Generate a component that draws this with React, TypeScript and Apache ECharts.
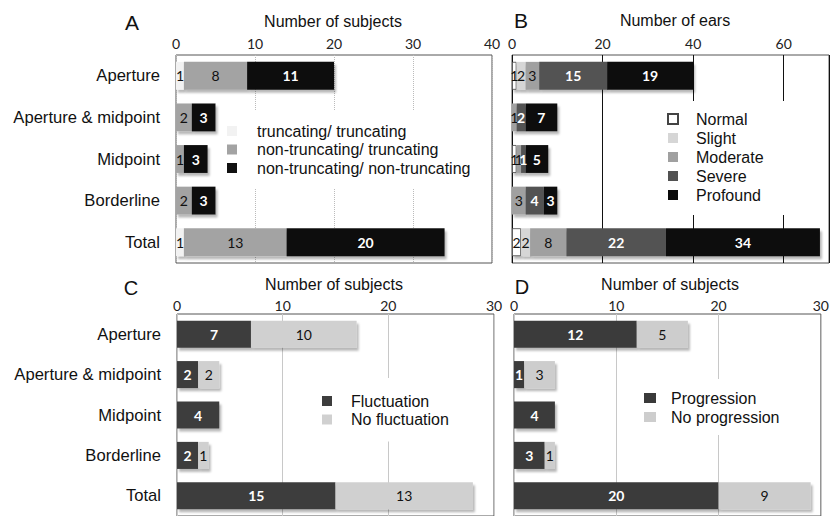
import React, { useEffect, useRef } from "react";
import * as echarts from "echarts";

const categories = ["Aperture", "Aperture & midpoint", "Midpoint", "Borderline", "Total"];

// Panel A (number of subjects)
const truncTrunc = [1, 0, 0, 0, 1];
const nonTruncTrunc = [8, 2, 1, 2, 13];
const nonTruncNonTrunc = [11, 3, 3, 3, 20];

// Panel B (number of ears)
const normal = [1, 0, 1, 0, 2];
const slight = [2, 0, 0, 0, 2];
const moderate = [3, 1, 1, 3, 8];
const severe = [15, 2, 1, 4, 22];
const profound = [19, 7, 5, 3, 34];

// Panel C
const fluctuation = [7, 2, 4, 2, 15];
const noFluctuation = [10, 2, 0, 1, 13];

// Panel D
const progression = [12, 1, 4, 3, 20];
const noProgression = [5, 3, 0, 1, 9];

const ARIAL = "'Liberation Sans', Arial, sans-serif";
const NUMF = "Lato, 'Open Sans', sans-serif";

function seg(name: string, data: number[], idx: number, color: string, dark: boolean, extra: any = {}) {
  return {
    name,
    type: "bar",
    stack: "s" + idx,
    xAxisIndex: idx,
    yAxisIndex: idx,
    data,
    barCategoryGap: "33%",
    itemStyle: {
      color,
      shadowColor: "rgba(0,0,0,0.28)",
      shadowBlur: 2,
      shadowOffsetX: 2,
      shadowOffsetY: 3,
      ...extra,
    },
    label: {
      show: true,
      position: "inside",
      formatter: (p: any) => (p.value ? String(p.value) : ""),
      color: dark ? "#fff" : "#111",
      fontWeight: dark ? "bold" : "normal",
      fontFamily: NUMF,
      fontSize: 14,
    },
  };
}

function grid(left: number, top: number, width: number) {
  return { left, top, width, height: 208, show: true, borderColor: "#555", borderWidth: 1, containLabel: false };
}

function xAx(idx: number, max: number, interval: number, splitColor: string, splitType: string, margin: number) {
  return {
    type: "value",
    gridIndex: idx,
    position: "top",
    min: 0,
    max,
    interval,
    axisLine: { show: false },
    axisTick: { show: false },
    axisLabel: {
      margin,
      fontFamily: NUMF,
      fontSize: 14,
      color: "#222",
      formatter: (v: number) => (v % interval === 0 ? String(v) : ""),
    },
    splitLine: { show: true, lineStyle: { color: splitColor, type: splitType, width: 1 } },
  };
}

function yAx(idx: number, showLabels: boolean) {
  return {
    type: "category",
    gridIndex: idx,
    data: categories,
    inverse: true,
    axisLine: { show: false },
    axisTick: { show: false },
    axisLabel: { show: showLabels, margin: 16, fontFamily: ARIAL, fontSize: 16.6, color: "#111" },
  };
}

function legend(names: string[], left: number, top: number, pad: number[], textPad: number, gap: number, iw = 10) {
  return {
    orient: "vertical",
    left,
    top,
    data: names,
    itemWidth: iw,
    itemHeight: 10,
    itemGap: gap,
    icon: "rect",
    padding: pad,
    backgroundColor: "#ffffff",
    textStyle: { fontFamily: ARIAL, fontSize: 16, color: "#111", lineHeight: 16, padding: [0, 0, 0, textPad] },
    selectedMode: false,
  };
}

function txt(text: string, x: number, y: number, size: number) {
  return {
    type: "text",
    x,
    y,
    style: { text, fontFamily: ARIAL, fontSize: size, fill: "#111", textAlign: "center", textVerticalAlign: "middle" },
  };
}

export default function App() {
  const ref = useRef<HTMLDivElement>(null);
  useEffect(() => {
    if (!ref.current) return;
    const chart = echarts.init(ref.current, null, { renderer: "svg" });
    const option: any = {
      animation: false,
      backgroundColor: "#fff",
      grid: [grid(176, 55, 316), grid(512, 55, 317), grid(177, 314, 317), grid(514, 314, 315)],
      xAxis: [
        xAx(0, 40, 10, "#bbb", "dotted", 5),
        xAx(1, 70, 20, "#111", "solid", 5),
        xAx(2, 30, 10, "#c8c8c8", "solid", 2),
        xAx(3, 30, 10, "#c8c8c8", "solid", 2),
      ],
      yAxis: [yAx(0, true), yAx(1, false), yAx(2, true), yAx(3, false)],
      legend: [
        legend(
          ["truncating/ truncating", "non-truncating/ truncating", "non-truncating/ non-truncating"],
          220, 110, [13, 15, 12, 7], 15, 2.5
        ),
        legend(["Normal", "Slight", "Moderate", "Severe", "Profound"], 655, 101, [10, 30, 12, 12], 13, 3),
        legend(["Fluctuation", "No fluctuation"], 310, 378, [15, 18, 14, 12], 14, 2.5),
        legend(["Progression", "No progression"], 631, 379, [11, 16, 10, 13], 10, 3, 12),
      ],
      graphic: [
        txt("A", 132, 22, 21),
        txt("B", 521, 20, 21),
        txt("C", 131, 288, 20),
        txt("D", 522, 287, 20),
        txt("Number of subjects", 333, 21, 16),
        txt("Number of ears", 675, 20, 16),
        txt("Number of subjects", 334, 284, 16),
        txt("Number of subjects", 670, 284, 16),
      ],
      series: [
        seg("truncating/ truncating", truncTrunc, 0, "#f2f2f2", false),
        seg("non-truncating/ truncating", nonTruncTrunc, 0, "#a3a3a3", false),
        seg("non-truncating/ non-truncating", nonTruncNonTrunc, 0, "#111111", true),
        seg("Normal", normal, 1, "#ffffff", false, { borderColor: "#444", borderWidth: 0.8 }),
        seg("Slight", slight, 1, "#d6d6d6", false),
        seg("Moderate", moderate, 1, "#a0a0a0", false),
        seg("Severe", severe, 1, "#525252", true),
        seg("Profound", profound, 1, "#0a0a0a", true),
        seg("Fluctuation", fluctuation, 2, "#3d3d3d", true),
        seg("No fluctuation", noFluctuation, 2, "#d0d0d0", false),
        seg("Progression", progression, 3, "#3a3a3a", true),
        seg("No progression", noProgression, 3, "#cdcdcd", false),
      ],
    };
    chart.setOption(option);
    return () => chart.dispose();
  }, []);
  return (
    <div
      ref={ref}
      style={{ position: "absolute", left: 0, top: 0, width: 832, height: 516, background: "#fff" }}
    />
  );
}
